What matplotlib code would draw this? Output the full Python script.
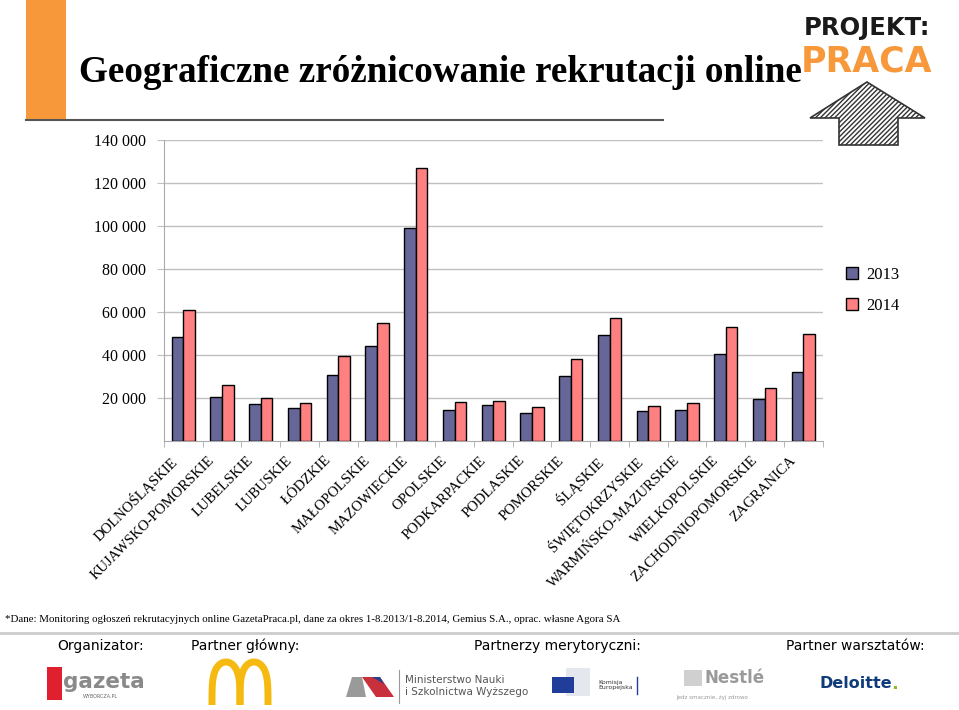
import matplotlib
matplotlib.use('Agg')
import matplotlib.pyplot as plt
import matplotlib.transforms as mtransforms
import numpy as np
from matplotlib.patches import Rectangle, Polygon

regions = ['DOLNOŚLĄSKIE', 'KUJAWSKO-POMORSKIE', 'LUBELSKIE', 'LUBUSKIE', 'ŁÓDZKIE',
           'MAŁOPOLSKIE', 'MAZOWIECKIE', 'OPOLSKIE', 'PODKARPACKIE', 'PODLASKIE',
           'POMORSKIE', 'ŚLĄSKIE', 'ŚWIĘTOKRZYSKIE', 'WARMIŃSKO-MAZURSKIE',
           'WIELKOPOLSKIE', 'ZACHODNIOPOMORSKIE', 'ZAGRANICA']
values_2013 = [48300, 20450, 16900, 15100, 30500, 44150, 98850, 14300, 16700, 13000,
               29900, 49100, 13650, 14300, 40300, 19400, 31800]
values_2014 = [60900, 26000, 20000, 17500, 39200, 54850, 126900, 18000, 18600, 15500,
               38000, 57200, 16100, 17400, 52850, 24350, 49750]
yticks = [20000, 40000, 60000, 80000, 100000, 120000, 140000]
ytick_labels = ['20 000', '40 000', '60 000', '80 000', '100 000', '120 000', '140 000']

W, H = 959, 710
fig = plt.figure(figsize=(W / 100, H / 100), dpi=100)
serif = 'Liberation Serif'

# overlay for slide decoration, pixel coordinates
deco = fig.add_axes([0, 0, 1, 1])
deco.set_xlim(0, W)
deco.set_ylim(H, 0)
deco.axis('off')

deco.add_patch(Rectangle((26, 0), 40, 120, color='#F7993A', lw=0))
deco.plot([26, 663], [120, 120], color='#555555', lw=1.5)
deco.text(79, 73, 'Geograficzne zróżnicowanie rekrutacji online', fontsize=26.7,
          fontweight='bold', family=serif, va='center', ha='left')

# Projekt: Praca logo
deco.text(867, 28, 'PROJEKT:', fontsize=17.5, fontweight='heavy', family='DejaVu Sans',
          ha='center', va='center', color='#1a1a1a')
deco.text(867, 62, 'PRACA', fontsize=25, fontweight='heavy', family='DejaVu Sans',
          ha='center', va='center', color='#F7993A')
arrow = Polygon([(867, 82), (925, 118), (898, 118), (898, 145), (839, 145), (839, 118), (810, 118)],
                closed=True, facecolor='white', edgecolor='#333333', hatch='///////', lw=1.2)
deco.add_patch(arrow)

# footnote and partners
deco.text(5, 620, '*Dane: Monitoring ogłoszeń rekrutacyjnych online GazetaPraca.pl, dane za okres '
          '1-8.2013/1-8.2014, Gemius S.A., oprac. własne Agora SA',
          fontsize=7.8, family=serif, va='center', ha='left')
deco.plot([0, W], [633, 633], color='#cccccc', lw=2)
for x, t in [(101, 'Organizator:'), (245, 'Partner główny:'), (557, 'Partnerzy merytoryczni:'),
             (855, 'Partner warsztatów:')]:
    deco.text(x, 646, t, fontsize=10, family='DejaVu Sans', ha='center', va='center')

# gazeta
deco.add_patch(Rectangle((47, 667), 15, 33, color='#E0202F', lw=0))
deco.text(63, 682, 'gazeta', fontsize=15.5, fontweight='bold', family='DejaVu Sans',
          color='#8a8a8a', ha='left', va='center')
deco.text(100, 697, 'WYBORCZA.PL', fontsize=3.5, family='DejaVu Sans', color='#666666',
          ha='center', va='center')
# golden arches
t = np.linspace(0, np.pi, 60)
for c in (226, 254):
    deco.plot(c + 14 * np.cos(t), 705 - 43 * np.sin(t) ** 0.5, color='#F5B90F', lw=5,
              solid_capstyle='butt')
# ministry
deco.add_patch(Polygon([(346, 697), (352, 677), (362, 677), (366, 697)], color='#9a9a9a', lw=0))
deco.add_patch(Polygon([(362, 677), (380, 677), (394, 697), (376, 697)], color='#C8303C', lw=0))
deco.add_patch(Polygon([(372, 677), (380, 677), (384, 684)], color='#2B3F8F', lw=0))
deco.plot([399, 399], [670, 703], color='#999999', lw=0.8)
deco.text(405, 686, 'Ministerstwo Nauki\ni Szkolnictwa Wyższego', fontsize=7.5,
          family='DejaVu Sans', color='#555555', ha='left', va='center', linespacing=1.3)
# EU
deco.add_patch(Rectangle((566, 668), 24, 28, facecolor='#e4e8ee', edgecolor='none'))
deco.add_patch(Rectangle((552, 677), 22, 16, color='#1F3D99', lw=0))
deco.text(598, 685, 'Komisja\nEuropejska', fontsize=4.5, family='DejaVu Sans', color='#333333',
          ha='left', va='center')
deco.plot([637, 637], [677, 694], color='#1F3D99', lw=1)
# Nestle
deco.add_patch(Rectangle((684, 670), 18, 16, facecolor='#d0d0d0', edgecolor='none'))
deco.text(705, 678, 'Nestlé', fontsize=12, fontweight='bold', family='DejaVu Sans',
          color='#9a9a9a', ha='left', va='center')
deco.text(712, 698, 'Jedz smacznie, żyj zdrowo', fontsize=4, family='DejaVu Sans',
          color='#9a9a9a', ha='center', va='center')
# Deloitte
deco.text(856, 684, 'Deloitte', fontsize=11.5, fontweight='bold', family='DejaVu Sans',
          color='#0F3B7A', ha='center', va='center')
deco.text(891, 684, '.', fontsize=13, fontweight='bold', family='DejaVu Sans',
          color='#86BC25', ha='left', va='center')

# chart
left, right, top, bottom = 164, 822.7, 139.5, 440.7
ax = fig.add_axes([left / W, 1 - bottom / H, (right - left) / W, (bottom - top) / H])
x = np.arange(len(regions))
bw = 0.3
ax.bar(x - bw / 2, values_2013, bw, color='#666699', edgecolor='black', lw=1, label='2013', zorder=3)
ax.bar(x + bw / 2, values_2014, bw, color='#FF8080', edgecolor='black', lw=1, label='2014', zorder=3)
ax.set_xlim(-0.5, len(regions) - 0.5)
ax.set_ylim(0, 140000)
ax.set_yticks(yticks)
ax.set_yticklabels(ytick_labels, family=serif, fontsize=11.5)
ax.grid(axis='y', color='#c0c0c0', lw=1, zorder=0)
ax.tick_params(axis='y', length=5, color='#c0c0c0', pad=8)

# category labels, rotated and anchored just left of each category centre
ax.set_xticks([])
ax.set_xticks(np.arange(-0.5, len(regions)), minor=True)
ax.tick_params(axis='x', which='minor', length=4, color='#aaaaaa')
lab_tr = mtransforms.offset_copy(ax.get_xaxis_transform(), fig=fig, x=-14, y=-13, units='dots')
for i, name in enumerate(regions):
    ax.text(i, 0, name, transform=lab_tr, rotation=45, ha='right', va='top',
            rotation_mode='anchor', family=serif, fontsize=10.5)

for s in ['top', 'right']:
    ax.spines[s].set_visible(False)
for s in ['left', 'bottom']:
    ax.spines[s].set_color('#aaaaaa')
ax.set_facecolor('none')

fig.legend(loc='upper left', bbox_to_anchor=(831 / W, 1 - 252 / H), frameon=False,
           prop={'family': serif, 'size': 12}, handlelength=0.7, handleheight=0.7,
           handletextpad=0.5, labelspacing=0.9)

fig.savefig('out.png', dpi=100)
